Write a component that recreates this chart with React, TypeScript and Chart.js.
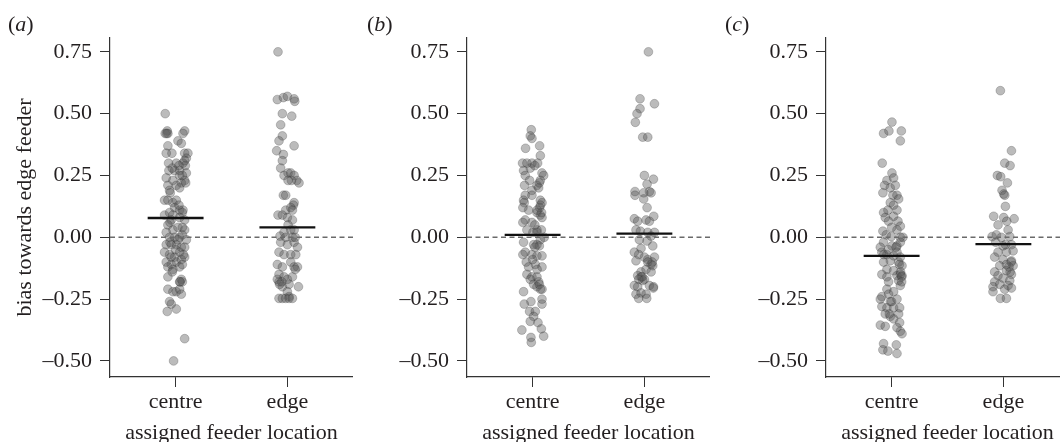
import React, { useEffect, useRef } from "react";
import { Chart, registerables } from "chart.js";

Chart.register(...registerables);

// ---------- data ----------
const categories = ["centre", "edge"];
const yTickValues = [-0.5, -0.25, 0, 0.25, 0.5, 0.75];
const panelLetters = ["a", "b", "c"];
const yTitle = "bias towards edge feeder";
const xTitle = "assigned feeder location";

// panel (a)
const aCentreVals = [0.50,0.43,0.42,0.42,0.43,0.42,0.39,0.38,0.37,0.34,0.34,0.34,0.32,0.34,0.30,0.30,0.30,0.29,0.31,0.27,0.27,0.27,0.26,0.24,0.23,0.25,0.23,0.22,0.21,0.21,0.20,0.19,0.18,0.15,0.15,0.14,0.15,0.12,0.11,0.11,0.09,0.10,0.09,0.08,0.07,0.07,0.05,0.03,0.04,0.03,0.02,0.00,0.00,0.00,0.01,-0.01,-0.03,-0.03,-0.03,-0.04,-0.04,-0.06,-0.07,-0.08,-0.06,-0.08,-0.10,-0.11,-0.10,-0.09,-0.12,-0.13,-0.12,-0.16,-0.17,-0.18,-0.18,-0.21,-0.22,-0.22,-0.21,-0.23,-0.26,-0.27,-0.29,-0.30,-0.41,-0.50,
  0.28,0.29,0.25,0.22,0.13,0.10,0.06,0.04,-0.02,-0.01,-0.05,-0.07,-0.11,-0.14,-0.08,-0.18,0.42];
const aCentreJit = [-0.093,-0.075,-0.069,-0.093,0.081,0.066,0.021,0.051,-0.069,-0.033,0.081,0.110,0.096,-0.084,-0.063,0.006,0.066,0.087,0.081,-0.060,-0.009,0.036,0.096,-0.084,-0.024,0.036,0.081,0.051,-0.069,0.006,0.036,-0.054,-0.048,-0.099,-0.069,-0.024,0.006,-0.009,0.036,0.066,-0.099,-0.054,-0.024,0.036,0.081,-0.039,-0.069,-0.024,0.021,0.081,-0.084,-0.054,-0.009,0.036,0.060,0.096,-0.084,-0.039,0.006,0.051,0.081,-0.099,-0.054,-0.009,0.036,0.081,-0.084,-0.039,0.006,0.051,-0.069,-0.024,0.036,-0.069,0.051,0.036,0.060,-0.069,-0.024,0.006,0.036,0.051,-0.054,-0.039,0.006,-0.075,0.081,-0.018,
  -0.030,0.030,0.060,0.090,0.030,0.060,-0.050,0.060,-0.050,0.020,0.000,0.070,0.060,-0.030,-0.040,0.040,-0.080];
const aEdgeVals = [0.75,0.557,0.565,0.57,0.56,0.55,0.50,0.49,0.455,0.41,0.39,0.37,0.35,0.335,0.31,0.28,0.25,0.26,0.26,0.25,0.23,0.22,0.23,0.23,0.17,0.17,0.14,0.13,0.12,0.11,0.11,0.09,0.09,0.08,0.07,0.05,0.03,0.02,0.03,0.005,0.00,0.00,-0.02,-0.03,-0.02,-0.04,-0.06,-0.07,-0.07,-0.07,-0.11,-0.12,-0.10,-0.12,-0.12,-0.15,-0.16,-0.17,-0.16,-0.18,-0.20,-0.17,-0.19,-0.20,-0.22,-0.24,-0.247,-0.247,-0.247,-0.247,-0.247,
  -0.18,-0.19,-0.13,0.00];
const aEdgeJit = [-0.084,-0.090,-0.036,0.000,0.060,0.066,-0.045,0.039,-0.060,-0.045,-0.075,0.060,-0.096,-0.036,-0.045,-0.060,-0.030,0.006,0.030,0.060,0.084,0.104,0.036,0.006,-0.036,-0.015,0.060,0.054,0.030,-0.015,0.045,-0.084,-0.045,0.000,0.045,0.006,0.030,-0.030,0.060,-0.066,-0.015,0.045,-0.060,0.000,0.060,0.090,-0.075,-0.030,0.030,0.075,-0.090,-0.045,0.030,0.060,0.090,-0.075,-0.030,0.000,0.045,-0.075,-0.045,-0.090,0.015,0.099,0.000,0.015,-0.075,-0.045,-0.015,0.015,0.045,
  -0.050,-0.070,0.070,0.070];
const aMeans = [0.078, 0.04];

// panel (b)
const bCentreVals = [0.435,0.41,0.40,0.37,0.36,0.33,0.30,0.30,0.30,0.30,0.27,0.25,0.28,0.26,0.25,0.23,0.21,0.23,0.21,0.19,0.20,0.17,0.17,0.15,0.14,0.15,0.14,0.12,0.11,0.12,0.10,0.09,0.08,0.07,0.06,0.06,0.03,0.03,0.03,0.02,0.02,0.00,-0.01,-0.02,-0.03,-0.03,-0.035,-0.06,-0.07,-0.07,-0.075,-0.075,-0.10,-0.11,-0.12,-0.12,-0.15,-0.16,-0.16,-0.17,-0.19,-0.18,-0.21,-0.20,-0.22,-0.25,-0.26,-0.27,-0.27,-0.30,-0.30,-0.32,-0.34,-0.345,-0.375,-0.37,-0.40,-0.405,-0.425,
  0.29,0.22,0.13,0.10,0.11,0.05,-0.04,-0.09,-0.13,-0.19,-0.21];
const bCentreJit = [-0.012,-0.021,-0.006,0.063,-0.063,0.069,-0.090,-0.051,-0.006,0.045,-0.081,-0.066,-0.021,0.084,0.099,0.069,0.039,-0.027,-0.072,-0.006,0.054,-0.066,-0.006,-0.081,-0.075,0.069,0.084,0.063,-0.036,-0.087,0.039,0.069,0.084,-0.066,-0.087,-0.006,0.039,0.078,-0.051,0.003,0.039,0.104,0.069,-0.081,0.009,0.039,0.060,-0.066,-0.087,-0.006,0.039,0.084,-0.057,0.024,-0.036,0.084,-0.051,-0.006,0.039,-0.021,0.009,0.054,0.084,0.039,-0.081,0.084,-0.015,-0.075,0.084,-0.027,0.024,0.009,-0.021,0.048,-0.096,0.078,0.099,-0.015,-0.012,
  0.020,0.060,0.070,0.080,0.040,0.020,0.020,0.000,0.040,0.060,0.070];
const bEdgeVals = [0.75,0.56,0.54,0.52,0.50,0.465,0.405,0.405,0.25,0.235,0.215,0.185,0.18,0.18,0.185,0.17,0.155,0.12,0.075,0.065,0.07,0.065,0.085,0.03,0.025,0.02,0.005,0.02,-0.01,-0.015,-0.035,-0.045,-0.06,-0.07,-0.08,-0.09,-0.08,-0.095,-0.10,-0.11,-0.115,-0.14,-0.13,-0.14,-0.155,-0.16,-0.17,-0.175,-0.195,-0.20,-0.195,-0.20,-0.23,-0.225,-0.23,-0.247,-0.247,
  -0.16,-0.17,-0.10,-0.205];
const bEdgeJit = [0.036,-0.039,0.090,-0.039,-0.066,-0.081,-0.015,0.030,0.000,0.081,0.024,0.045,-0.006,0.060,-0.084,-0.084,-0.006,0.024,-0.090,-0.060,0.015,0.045,0.084,-0.075,-0.036,0.030,0.060,0.090,-0.045,0.024,0.075,-0.030,-0.090,-0.051,0.000,0.030,0.090,-0.075,0.030,0.060,0.075,-0.030,0.015,0.060,-0.060,-0.030,0.000,-0.015,-0.090,-0.060,0.045,0.081,-0.075,-0.030,0.015,-0.051,0.021,
  -0.020,-0.050,0.070,0.080];
const bMeans = [0.01, 0.015];

// panel (c)
const cCentreVals = [0.466,0.42,0.43,0.43,0.39,0.30,0.26,0.23,0.24,0.21,0.18,0.20,0.21,0.17,0.17,0.155,0.14,0.13,0.11,0.11,0.10,0.08,0.085,0.065,0.065,0.045,0.03,0.025,0.01,0.003,0.00,0.00,-0.02,-0.04,-0.035,-0.035,-0.02,-0.06,-0.07,-0.075,-0.06,-0.08,-0.095,-0.10,-0.10,-0.115,-0.13,-0.135,-0.15,-0.16,-0.155,-0.15,-0.155,-0.175,-0.18,-0.21,-0.195,-0.22,-0.24,-0.23,-0.25,-0.26,-0.25,-0.28,-0.285,-0.285,-0.285,-0.31,-0.32,-0.31,-0.33,-0.355,-0.345,-0.36,-0.365,-0.38,-0.39,-0.43,-0.435,-0.455,-0.46,-0.47,
  -0.04,-0.07,-0.11,-0.14,-0.16,-0.05,-0.26,-0.31,0.04,-0.18];
const cCentreJit = [0.003,-0.072,-0.024,0.087,0.078,-0.084,0.003,-0.042,0.018,-0.063,-0.078,-0.012,0.033,0.012,0.048,0.063,-0.012,0.018,-0.033,0.048,-0.072,-0.057,0.018,-0.027,0.057,0.078,0.048,-0.078,-0.048,-0.003,0.078,0.101,-0.072,-0.101,0.003,0.048,0.078,-0.087,-0.042,0.018,0.048,0.078,-0.012,-0.072,0.063,0.093,-0.042,0.018,-0.087,-0.042,0.048,0.078,0.093,0.063,-0.027,-0.042,0.078,0.018,-0.087,-0.027,-0.101,-0.012,0.048,-0.087,-0.042,0.018,0.072,-0.057,-0.012,0.063,0.018,-0.101,0.072,-0.057,0.048,0.078,0.093,-0.072,0.042,-0.078,-0.033,0.048,
  0.040,-0.070,0.070,0.080,0.090,-0.030,0.000,-0.020,0.000,0.090];
const cEdgeVals = [0.593,0.35,0.30,0.29,0.25,0.245,0.22,0.19,0.175,0.17,0.125,0.085,0.08,0.065,0.075,0.05,0.03,0.003,0.01,0.00,0.003,-0.02,-0.035,-0.03,-0.06,-0.06,-0.055,-0.08,-0.09,-0.095,-0.115,-0.11,-0.115,-0.14,-0.155,-0.135,-0.15,-0.165,-0.18,-0.19,-0.175,-0.195,-0.20,-0.22,-0.21,-0.205,-0.247,-0.247,
  -0.12,-0.14,-0.10,-0.03];
const cEdgeJit = [-0.027,0.072,0.012,0.060,-0.054,-0.024,0.036,-0.012,0.003,0.012,0.018,-0.087,0.003,0.030,0.096,-0.048,0.042,-0.101,-0.063,-0.018,0.057,-0.069,-0.003,0.072,-0.048,0.027,0.087,-0.078,-0.003,0.072,-0.033,0.027,0.087,-0.078,-0.048,0.027,0.072,-0.003,-0.078,-0.033,0.057,0.042,-0.093,-0.093,0.012,0.072,-0.027,0.027,
  0.050,0.060,0.070,0.020];
const cMeans = [-0.075, -0.028];

const panelData = [
  { centreVals: aCentreVals, centreJit: aCentreJit, edgeVals: aEdgeVals, edgeJit: aEdgeJit, means: aMeans },
  { centreVals: bCentreVals, centreJit: bCentreJit, edgeVals: bEdgeVals, edgeJit: bEdgeJit, means: bMeans },
  { centreVals: cCentreVals, centreJit: cCentreJit, edgeVals: cEdgeVals, edgeJit: cEdgeJit, means: cMeans },
];

// ---------- layout ----------
const CANVAS_H = 446;
const panelLayout = [
  { left: 0, width: 353, axisW: 110, labelX: 8, showYTitle: true },
  { left: 353, width: 357, axisW: 114, labelX: 14, showYTitle: false },
  { left: 710, width: 359, axisW: 116, labelX: 15, showYTitle: false },
];
const X_MIN = -0.587;
const X_MAX = 1.587;
const Y_MIN = -0.565;
const Y_MAX = 0.806;
const FONT_FAMILY = "'Liberation Serif', 'Times New Roman', serif";
const TEXT_COLOR = "#231f20";
const AXIS_COLOR = "#333333";

const fmtTick = (v: number) => (v < 0 ? "\u2013" + Math.abs(v).toFixed(2) : v.toFixed(2));

function makePanelLabelPlugin(letter: string, x: number) {
  return {
    id: "panelLabel" + letter,
    afterDraw(chart: any) {
      const ctx = chart.ctx;
      ctx.save();
      ctx.fillStyle = TEXT_COLOR;
      ctx.textBaseline = "alphabetic";
      ctx.textAlign = "left";
      const y = 31;
      ctx.font = "22px " + FONT_FAMILY;
      ctx.fillText("(", x, y);
      let cx = x + ctx.measureText("(").width;
      ctx.font = "italic 22px " + FONT_FAMILY;
      ctx.fillText(letter, cx, y);
      cx += ctx.measureText(letter).width;
      ctx.font = "22px " + FONT_FAMILY;
      ctx.fillText(")", cx, y);
      ctx.restore();
    },
  };
}

function Panel({ idx }: { idx: number }) {
  const ref = useRef<HTMLCanvasElement | null>(null);
  const lay = panelLayout[idx];
  const d = panelData[idx];

  useEffect(() => {
    if (!ref.current) return;
    const centrePts = d.centreVals.map((v, i) => ({ x: 0 + d.centreJit[i], y: v }));
    const edgePts = d.edgeVals.map((v, i) => ({ x: 1 + d.edgeJit[i], y: v }));
    const font = { family: FONT_FAMILY, size: 22, lineHeight: 1.2 };
    const pointStyle = {
      type: "scatter" as const,
      pointRadius: 4.4,
      pointHoverRadius: 4.4,
      backgroundColor: "rgba(85,85,85,0.4)",
      borderColor: "rgba(40,40,40,0.4)",
      borderWidth: 0.6,
      showLine: false,
    };
    const chart = new Chart(ref.current, {
      type: "scatter",
      data: {
        datasets: [
          {
            type: "line",
            data: [{ x: -0.25, y: d.means[0] }, { x: 0.25, y: d.means[0] }],
            borderColor: "#111111",
            borderWidth: 2.3,
            pointRadius: 0,
            order: 0,
          } as any,
          {
            type: "line",
            data: [{ x: 0.75, y: d.means[1] }, { x: 1.25, y: d.means[1] }],
            borderColor: "#111111",
            borderWidth: 2.3,
            pointRadius: 0,
            order: 0,
          } as any,
          {
            type: "line",
            data: [{ x: X_MIN, y: 0 }, { x: X_MAX, y: 0 }],
            borderColor: "#6a6a6a",
            borderWidth: 1.4,
            borderDash: [5, 3.5],
            pointRadius: 0,
            order: 1,
          } as any,
          { ...pointStyle, data: centrePts, order: 2 } as any,
          { ...pointStyle, data: edgePts, order: 2 } as any,
        ],
      },
      options: {
        responsive: false,
        animation: false,
        events: [],
        layout: { autoPadding: false, padding: { top: 38, left: 0, right: 0, bottom: 0 } },
        plugins: { legend: { display: false }, tooltip: { enabled: false } },
        scales: {
          x: {
            type: "linear",
            min: X_MIN,
            max: X_MAX,
            afterBuildTicks: (s: any) => {
              s.ticks = categories.map((_, i) => ({ value: i }));
            },
            afterFit: (s: any) => {
              s.height = CANVAS_H - 377;
            },
            ticks: {
              autoSkip: false,
              maxRotation: 0,
              padding: 2,
              color: TEXT_COLOR,
              font,
              callback: (_v: any, i: number) => categories[i],
            },
            grid: { drawOnChartArea: false, drawTicks: true, tickLength: 10, tickColor: AXIS_COLOR, tickWidth: 1 },
            border: { color: AXIS_COLOR, width: 1.2 },
            title: { display: true, text: xTitle, color: TEXT_COLOR, font, padding: 0 },
          },
          y: {
            type: "linear",
            min: Y_MIN,
            max: Y_MAX,
            afterBuildTicks: (s: any) => {
              s.ticks = yTickValues.map((v) => ({ value: v }));
            },
            afterFit: (s: any) => {
              s.width = lay.axisW;
            },
            ticks: {
              padding: 8,
              color: TEXT_COLOR,
              font,
              callback: (v: any) => fmtTick(Number(v)),
            },
            grid: { drawOnChartArea: false, drawTicks: true, tickLength: 10, tickColor: AXIS_COLOR, tickWidth: 1 },
            border: { color: AXIS_COLOR, width: 1.2 },
            title: {
              display: lay.showYTitle,
              text: yTitle,
              color: TEXT_COLOR,
              font,
              padding: { top: 12, bottom: 0 },
            },
          },
        },
      } as any,
      plugins: [makePanelLabelPlugin(panelLetters[idx], lay.labelX)],
    });
    return () => chart.destroy();
  }, [idx]);

  return (
    <canvas
      ref={ref}
      width={lay.width}
      height={CANVAS_H}
      style={{ position: "absolute", left: lay.left, top: 0, width: lay.width, height: CANVAS_H }}
    />
  );
}

export default function App() {
  return (
    <div
      style={{
        position: "fixed",
        left: 0,
        top: 0,
        width: 1060,
        height: 442,
        overflow: "hidden",
        background: "#ffffff",
      }}
    >
      {panelLayout.map((_, i) => (
        <Panel key={i} idx={i} />
      ))}
    </div>
  );
}
